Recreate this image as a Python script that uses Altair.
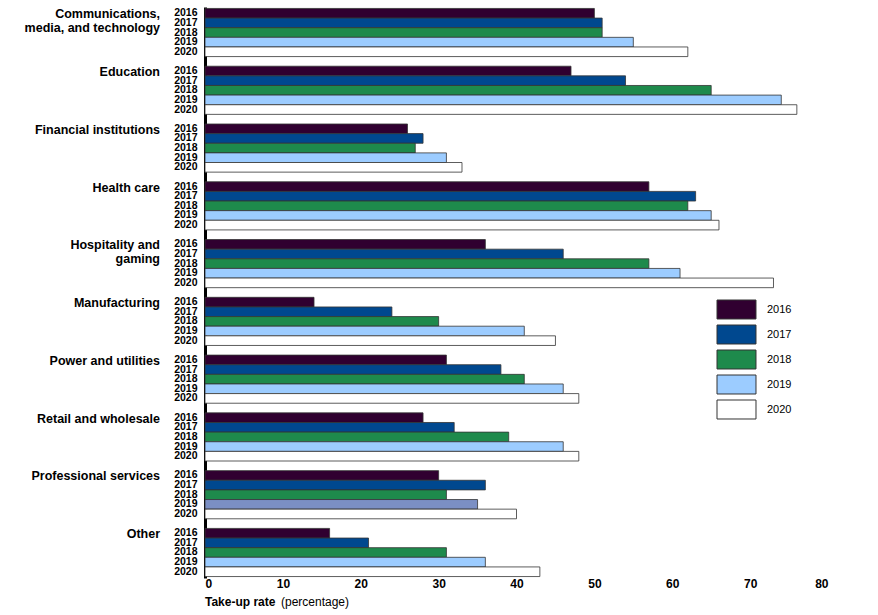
import altair as alt
import pandas as pd

categories = [
    "Communications,\nmedia, and technology",
    "Education",
    "Financial institutions",
    "Health care",
    "Hospitality and\ngaming",
    "Manufacturing",
    "Power and utilities",
    "Retail and wholesale",
    "Professional services",
    "Other",
]
years = ["2016", "2017", "2018", "2019", "2020"]

v2016 = [50, 47, 26, 57, 36, 14, 31, 28, 30, 16]
v2017 = [51, 54, 28, 63, 46, 24, 38, 32, 36, 21]
v2018 = [51, 65, 27, 62, 57, 30, 41, 39, 31, 31]
v2019 = [55, 74, 31, 65, 61, 41, 46, 46, 35, 36]
v2020 = [62, 76, 33, 66, 73, 45, 48, 48, 40, 43]

colors = ["#300030", "#00488f", "#1e8a4c", "#9cccff", "#ffffff"]
highlight_color = "#7b8fc4"

series = [v2016, v2017, v2018, v2019, v2020]
rows = []
for yi, yr in enumerate(years):
    for ci, cat in enumerate(categories):
        rows.append({"category": cat, "year": yr, "key": f"{ci}|{yr}", "value": series[yi][ci]})
df = pd.DataFrame(rows)

domain = []
for ci, cat in enumerate(categories):
    for yr in years:
        domain.append(f"{ci}|{yr}")
    if ci < len(categories) - 1:
        domain.append(f"{ci}|gap")

labels_df = pd.DataFrame({"category": categories, "key": [f"{ci}|2016" for ci in range(len(categories))]})

yscale = alt.Scale(domain=domain, paddingInner=0, paddingOuter=0.15)

bars = alt.Chart(df).mark_bar(stroke="#333333", strokeWidth=0.8).encode(
    x=alt.X("value:Q", scale=alt.Scale(domain=[0, 80]),
            axis=alt.Axis(values=list(range(0, 81, 10)), domain=False, ticks=False, grid=False,
                          labelFont="Liberation Sans", labelFontWeight="bold", labelFontSize=12,
                          labelColor="black", labelPadding=0, title=None)),
    y=alt.Y("key:N", scale=yscale, sort=domain,
            axis=alt.Axis(labelExpr="split(datum.value, '|')[1] == 'gap' ? '' : split(datum.value, '|')[1]",
                          ticks=False, domainColor="black", domainWidth=3, grid=False,
                          labelFont="Liberation Sans", labelFontWeight="bold", labelFontSize=10.5,
                          labelColor="black", labelPadding=8, title=None)),
    color=alt.condition(
        "datum.category == 'Professional services' && datum.year == '2019'",
        alt.value(highlight_color),
        alt.Color("year:N", scale=alt.Scale(domain=years, range=colors),
                  legend=alt.Legend(title=None, orient="none", legendX=521, legendY=292,
                                    symbolType="M-2,-0.974H2V0.974H-2Z", symbolSize=380,
                                    symbolStrokeColor="#333333", symbolStrokeWidth=1,
                                    symbolOpacity=1,
                                    labelFont="Liberation Sans", labelFontSize=11, labelColor="black",
                                    labelOffset=20, rowPadding=2)),
    ),
)

cat_labels = alt.Chart(labels_df).mark_text(
    align="right", baseline="middle", font="Liberation Sans", fontWeight="bold",
    fontSize=12.5, lineBreak="\n", lineHeight=14, color="black", dy=1,
).encode(
    y=alt.Y("key:N", scale=yscale, sort=domain),
    x=alt.value(-45),
    text="category:N",
)

t1 = alt.Chart(pd.DataFrame({"t": ["Take-up rate"]})).mark_text(
    align="left", baseline="middle", font="Liberation Sans", fontWeight="bold", fontSize=12, color="black"
).encode(x=alt.value(0), y=alt.value(595), text="t:N")

t2 = alt.Chart(pd.DataFrame({"t": ["(percentage)"]})).mark_text(
    align="left", baseline="middle", font="Liberation Sans", fontSize=12, color="black"
).encode(x=alt.value(76), y=alt.value(595), text="t:N")

chart = alt.layer(bars, cat_labels, t1, t2).properties(
    width=623, height=571,
    autosize=alt.AutoSizeParams(type="none"),
    padding={"left": 205, "top": 7, "right": 50, "bottom": 37},
    background="white",
).configure_view(stroke=None)

chart.save("out.html", embed_options={"renderer": "svg", "actions": False})
